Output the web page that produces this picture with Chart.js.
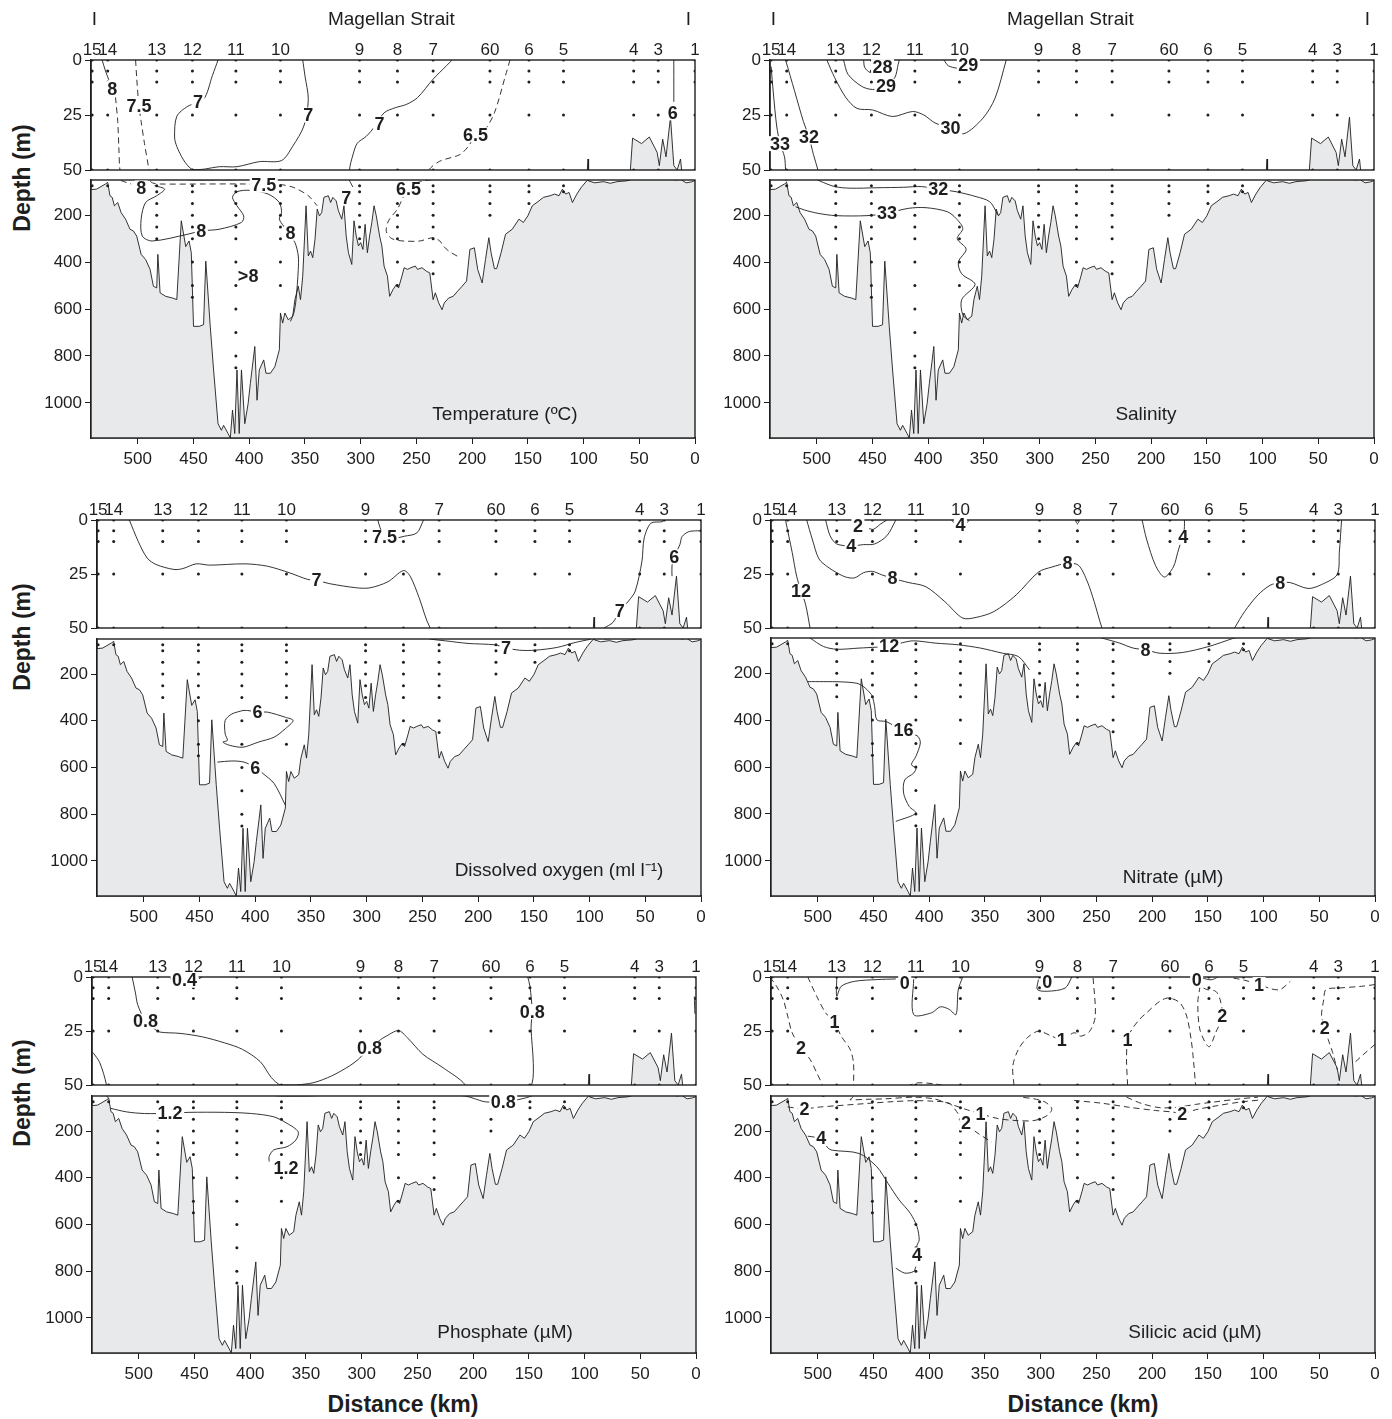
<!DOCTYPE html>
<html>
<head>
<meta charset="utf-8">
<title>Magellan Strait sections</title>
<script src="https://cdn.jsdelivr.net/npm/chart.js"></script>
<style>
  body { margin: 0; width: 1392px; height: 1419px; position: relative; overflow: hidden; background: #fff;
         font-family: 'Liberation Sans', Arial, sans-serif; color: #1e1e1e; }
  canvas { position: absolute; }
  .lab { position: absolute; font-weight: bold; font-size: 23px; white-space: nowrap; }
  .ylab { transform: translate(-50%, -50%) rotate(-90deg); }
  .xlab { transform: translate(-50%, -50%); }
</style>
</head>
<body>
<div class="lab ylab" style="left:22px;top:178px">Depth (m)</div>
<div class="lab ylab" style="left:22px;top:637px">Depth (m)</div>
<div class="lab ylab" style="left:22px;top:1093px">Depth (m)</div>
<div class="lab xlab" style="left:403px;top:1404px">Distance (km)</div>
<div class="lab xlab" style="left:1083px;top:1404px">Distance (km)</div>
<script>
const FONT = "'Liberation Sans', Arial, sans-serif";
const INK = '#1e1e1e';
const SEA_GREY = '#e8e9eb';

// stations along the strait
const stationNames = ['15', '14', '13', '12', '11', '10', '9', '8', '7', '60', '6', '5', '4', '3', '1'];
const stationKm = [541, 527, 483, 451, 412, 372, 301, 267, 235, 184, 149, 118, 55, 33, 0];
const stationMax = [75, 75, 300, 550, 850, 500, 300, 500, 450, 200, 150, 100, 50, 50, 50];
const upperSampleDepths = [0, 5, 10, 25, 50];
const lowerSampleDepths = [75, 100, 150, 200, 250, 300, 400, 500, 600, 700, 800];
const straitEndsKm = [539, 6];

const distanceTicks = [0, 50, 100, 150, 200, 250, 300, 350, 400, 450, 500];
const upperDepthTicks = [0, 25, 50];
const lowerDepthTicks = [200, 400, 600, 800, 1000];

// seafloor profile [km, depth m]
const seafloor = [
  [542,91],[537,89],[529,67],[527,60],[525,117],[523,124],[521,160],[518,146],[515,189],[511,217],[507,260],[504,267],
  [501,289],[497,367],[493,389],[489,431],[486,503],[483,510],[482,367],[480,531],[475,546],[469,553],[465,560],[461,224],
  [457,334],[454,310],[452,360],[450,674],[445,674],[441,667],[439,396],[435,674],[432,860],[428,1089],[425,1117],[423,1096],
  [419,1131],[417,1150],[415,1031],[413,1131],[411,860],[409,1131],[407,860],[404,1089],[401,1003],[399,917],[395,760],
  [393,989],[391,860],[387,817],[385,874],[381,874],[377,846],[373,774],[372,617],[370,660],[368,617],[365,646],[361,631],
  [359,560],[356,503],[354,560],[352,460],[349,160],[347,374],[345,353],[343,381],[341,303],[339,174],[337,203],[335,189],
  [333,124],[329,117],[327,146],[325,124],[322,139],[320,181],[317,217],[315,160],[313,289],[311,360],[308,410],[306,224],
  [304,289],[302,331],[300,317],[298,346],[296,239],[294,360],[292,289],[290,231],[288,160],[286,203],[283,289],[281,331],
  [279,417],[276,460],[274,546],[271,517],[268,496],[266,510],[263,460],[261,424],[258,431],[255,424],[251,417],[249,431],
  [245,424],[241,439],[238,446],[235,560],[233,531],[230,574],[227,603],[225,574],[221,553],[217,546],[213,524],[209,503],
  [205,481],[202,346],[198,339],[195,431],[191,489],[188,389],[185,296],[183,360],[180,428],[178,428],[174,360],[170,281],
  [164,260],[158,217],[154,231],[150,203],[146,160],[140,139],[136,124],[130,117],[126,110],[122,117],[119,89],[116,110],
  [113,103],[110,146],[106,110],[102,81],[97,53],[96,45],[95.5,54],[90,62],[82,57],[76,64],[70,57],[62,54],[58,50],
  [56,35.5],[48,38],[41,35],[34,42],[32,48],[29,36],[26,44],[22,26],[19,48],[16,50],[13,45],[12,50],[8,62],[3,58],[0,52]
];

// temperature (ºC)
const tempSolid = [
  [[532,0],[529,5],[526,9]],
  [[428,0],[433,7],[441,17.9],[455,21],[465,25.6],[467,35],[465,39.3],[459,45.4],[452,49.5],[445,49.8],[439,49.5],[427,48.5],
   [411,48.5],[391,46.2],[371,45.7],[361,39.2],[351,30],[347,18],[350,7.2],[352,0]],
  [[218,0],[223,2.6],[235,8.7],[249,17.1],[259,20.2],[269,21.7],[279,24],[287,30],[295,34.7],[303,37.8],[307,43.2],[310,50],
   [309,62],[307,80]],
  [[19,0],[19,10],[19,19]],
  [[485,74],[476,89],[483,117],[493,146],[497,217],[496,289],[487,310],[455,281],[443,267],[427,260],[407,231],[405,203],
   [411,160],[415,124],[411,100],[399,94],[383,110],[373,146],[371,189],[373,217],[367,260],[359,317],[356,374],[356,431],
   [358,560],[360,617],[363,653]]
];
const tempDashed = [
  [[520,17],[518,28],[517,40],[516,50],[513,56],[506,67]],
  [[502,0],[501,8],[499,21],[497,28],[494,38],[490,50],[487,62],[480,67],[440,67],[404,67],[387,70],[373,69],[360,82],
   [347,117],[339,160]],
  [[166,0],[170,7],[180,24],[189,32],[197,34],[203,39],[211,43],[229,46],[239,50],[245,56],[252,66],[257,90],[262,125],
   [267,174],[275,224],[277,270],[272,300],[262,310],[247,310],[235,296],[229,310],[226,330],[221,353],[211,381]]
];
const tempLabels = [
  [523,13,'8'],[499,21,'7.5'],[446,19,'7'],[347,25,'7'],[283,29,'7'],[197,34,'6.5'],[20,24,'6'],
  [497,84,'8'],[387,72,'7.5'],[313,125,'7'],[257,90,'6.5'],[443,268,'8'],[363,277,'8'],[401,460,'>8']
];

// salinity
const salSolid = [
  [[541,3],[539,15],[536,30],[533,38],[529,44],[528,50],[527,56]],
  [[528,0],[520,14],[512,28],[507,35],[503,43],[499,50],[497,55],[484,78],[470,85],[446,83],[422,81],[406,78],[391,90],
   [375,100],[357,121],[345,142],[339,185],[338,199]],
  [[491,0],[484,8],[474,17],[464,22],[450,22.7],[432,25.7],[414,23.4],[404,25],[394,28.6],[380,31],[368,33.5],[351,26.5],
   [340,17.3],[330,0]],
  [[476,0],[472,6.5],[460,11.9],[450,13.4],[438,12],[430,8],[427,2],[426,0]],
  [[458,0],[457,3.4],[452,5.7],[448,4.9],[445,3]],
  [[386,0],[382,2.6],[374,3.7],[368,3]],
  [[519,164],[511,178],[499,192],[483,202],[455,202],[437,192],[418,171],[402,168],[383,185],[375,214],[369,257],[374,300],
   [366,345],[373,400],[370,450],[358,495],[370,560],[369,625],[363,650]]
];
const salDashed = [];
const salLabels = [
  [533,38,'33'],[507,35,'32'],[380,31,'30'],[438,12,'29'],[441,3,'28'],[364,2.5,'29'],[391,90,'32'],[437,192,'33']
];

// dissolved oxygen (ml l-1)
const oxySolid = [
  [[513,0],[505,9.9],[497,17.6],[489,20.6],[473,22.9],[465,22.5],[453,20.3],[441,20.9],[409,20.3],[389,21.4],[369,24.5],
   [353,27.5],[345,28],[333,29.5],[309,31.4],[297,31.4],[281,28.6],[267,23.4],[261,26],[253,35.9],[243,50],[229,58],
   [209,69],[185,75],[175,88],[163,98],[149,98],[129,86],[113,65],[99,51]],
  [[290,0],[288,3.5],[284,7.6],[276,8.5],[266,7.5],[255,6],[249,0]],
  [[87,50],[79,47.4],[73,42],[65,37.5],[59,32.9],[53,19.1],[51,8.4],[45,1.5],[35,0.8],[33,0]],
  [[0,5],[3,5],[11,5.4],[17,7.7],[19,11.5],[24,17],[26,21],[26,26]],
  [[411,356],[421,371],[427,399],[427,456],[425,484],[429,491],[423,505],[411,513],[397,491],[383,470],[373,434],[366,399],
   [373,385],[389,363],[398,362],[407,356],[411,356]],
  [[434,577],[421,572],[410,577],[400,600],[393,626],[383,669],[373,761]]
];
const oxyDashed = [];
const oxyLabels = [
  [345,28,'7'],[284,8,'7.5'],[73,42,'7'],[24,17,'6'],[175,88,'7'],[398,362,'6'],[400,603,'6']
];

// nitrate (µM)
const nitSolid = [
  [[529,0],[523,15],[519,26],[515,33],[511,39],[507,50],[495,86],[483,98],[463,93],[447,89],[436,86],[424,70],[414,62],
   [394,72],[374,79],[354,93],[334,115],[320,129],[310,186]],
  [[510,0],[505,8.8],[499,18],[491,21.8],[483,24.4],[475,26.4],[467,26.8],[459,24.4],[451,23.8],[443,25.3],[433,27],
   [419,28.9],[403,30.9],[386,37.8],[370,45.4],[358,45.1],[342,42.4],[322,34.7],[302,24.1],[290,21.8],[276,20],[266,21],
   [258,28.7],[252,37.8],[245,50],[229,72],[217,93],[206,100],[193,115],[173,112],[149,86],[127,51],[126,50],[117,42.4],
   [105,34.7],[94,30.2],[85,29],[76,29],[60,31.7],[48,29.9],[34,25.3],[32,14.9],[30,0]],
  [[493,0],[489,7.3],[483,11.1],[470,12],[459,11.4],[449,11.1],[438,7.3],[430,0]],
  [[438,0],[444,2],[450,4.3],[454,4]],
  [[380,0],[377,1.5],[367,1.5],[364,0]],
  [[269,0],[267,1.8],[265,0]],
  [[209,0],[205,8.8],[197,21],[189,26.4],[181,21.8],[177,15],[174,10],[172,8],[171,3],[171,0]],
  [[509,236],[495,236],[479,237],[465,243],[459,257],[453,285],[451,299],[449,342],[447,399],[439,406],[431,425],[423,442],
   [415,460],[410,470],[408,498],[412,555],[416,590],[412,605],[414,626],[422,655],[423,712],[418,768],[412,797],[430,832]]
];
const nitDashed = [];
const nitLabels = [
  [515,33,'12'],[433,27,'8'],[276,20,'8'],[470,12,'4'],[464,3,'2'],[372,2.5,'4'],[172,8,'4'],[85,29,'8'],
  [436,86,'12'],[206,100,'8'],[423,442,'16']
];

// phosphate (µM)
const phosSolid = [
  [[472,0],[470,2]],
  [[446,0.8],[443,0]],
  [[506,0],[503,7.4],[501,12.8],[494,20.5],[486,24],[481,25.5],[463,26.1],[443,27.7],[423,30.5],[407,33.5],[391,39.2],
   [381,46.6],[373,50],[365,50],[359,50],[343,48.9],[327,45.8],[311,41.2],[303,38.1],[293,33],[283,29],[279,27.7],
   [267,24.8],[259,28.1],[245,35.8],[227,42],[207,50],[199,61],[189,75],[173,75],[159,65],[147,49],[146,40],[148,23.5],
   [147,16],[149,4.3],[151,0]],
  [[1.5,9],[1,17]],
  [[541,35],[535,39.7],[529,50],[527,60]],
  [[525,103],[511,118],[495,125],[472,124],[455,120],[423,120],[399,125],[379,139],[367,167],[357,203],[359,238],[367,267],
   [379,281],[383,309],[383,331]]
];
const phosDashed = [];
const phosLabels = [
  [459,1.5,'0.4'],[494,20.5,'0.8'],[293,33,'0.8'],[147,16,'0.8'],[173,75,'0.8'],[472,124,'1.2'],[368,360,'1.2']
];

// silicic acid (µM)
const silSolid = [
  [[483,0],[483,8.9],[479,4.3],[467,2],[447,1.2],[430,0.9]],
  [[414,1],[414,17.4],[398,16.6],[390,13.8],[382,15],[376,17.4],[374,6],[370,0]],
  [[302,1.2],[303,5.8],[294,6.6],[278,5.1],[272,0]],
  [[155,0.5],[147,1.3],[141,0]],
  [[509,222],[503,226],[497,232],[491,272],[487,282],[463,296],[447,353],[437,424],[427,495],[417,552],[411,609],[409,666],
   [411,690],[411,730]],
  [[430,787],[422,808],[414,801],[412,780]]
];
const silDashed = [
  [[543,0],[537,4.3],[531,10.5],[527,18.1],[523,25.8],[515,33],[507,38.1],[501,44.3],[496,50],[492,58]],
  [[509,0],[501,8.9],[493,16.6],[485,21],[479,27.4],[471,33.5],[468,39.7],[468,50],[469,58],[471,66],[455,64],[439,62],
   [414,55],[396,62],[382,83],[366,109],[354,126],[338,147],[322,155],[306,155],[294,133],[290,105],[296,76],[306,62],[318,55]],
  [[324,50],[325,41.2],[320,33.5],[312,28.1],[302,25.1],[290,27.4],[281,29],[270,25.8],[264,27.4],[256,25.1],[251,18.1],[253,0]],
  [[222,50],[223,38],[222,29],[219,25],[212,20],[205,16.6],[193,11.2],[185,9.7],[175,12],[169,18.1],[165,28.9],[163,38],[161,50]],
  [[157,4.3],[159,12],[157,24.6],[149,32.3],[143,25.8],[137,18],[139,10.5],[143,6.6],[151,5.8],[157,4.3]],
  [[127,0.5],[117,1.5],[104,3.5],[93,5.5],[85,5.8],[76,2]],
  [[0,3.5],[12,4.3],[32,5.1],[44,5.8],[46,10.5],[48,18.1],[45,23.5],[42,28.9],[38,35],[34,42.8]],
  [[0,31.2],[12,36.6],[20,40.5]],
  [[420,50.5],[410,49],[395,49.5],[384,50.5]],
  [[527,97],[512,105],[500,98],[484,92],[453,81],[432,74],[414,70],[398,72],[382,81],[374,126],[367,166],[358,204],[344,247]],
  [[270,69],[245,81],[221,98],[197,112],[181,119],[173,126],[161,109],[141,91],[121,76],[101,66]],
  [[223,55],[209,83],[193,100],[177,98],[161,86],[145,76],[121,62],[105,55]]
];
const silLabels = [
  [422,2.8,'0'],[294,2.3,'0'],[160,1.5,'0'],[515,33,'2'],[485,21,'1'],[281,29,'1'],[222,29,'1'],[137,18,'2'],
  [104,3.5,'1'],[45,23.5,'2'],[512,105,'2'],[354,126,'1'],[367,166,'2'],[173,126,'2'],[497,232,'4'],[411,730,'4']
];

// page layout
const PLOT_W = 604, Y_W = 64, PAD_R = 18, X_MAX = 542;

const fields = [
  { solid: tempSolid, dashed: tempDashed, labels: tempLabels, title: 'Temperature (ºC)', header: true,
    box: { right: 695, t1: 60, b1: 170, t2: 180, b2: 438 }, titleDx: 190, titleDy: 23 },
  { solid: salSolid, dashed: salDashed, labels: salLabels, title: 'Salinity', header: true,
    box: { right: 1374, t1: 60, b1: 170, t2: 180, b2: 438 }, titleDx: 228, titleDy: 23 },
  { solid: oxySolid, dashed: oxyDashed, labels: oxyLabels, title: 'Dissolved oxygen (ml l\u207B\u00B9)', header: false,
    box: { right: 701, t1: 520, b1: 628, t2: 639, b2: 896 }, titleDx: 142, titleDy: 25 },
  { solid: nitSolid, dashed: nitDashed, labels: nitLabels, title: 'Nitrate (µM)', header: false,
    box: { right: 1375, t1: 520, b1: 628, t2: 638, b2: 896 }, titleDx: 202, titleDy: 18 },
  { solid: phosSolid, dashed: phosDashed, labels: phosLabels, title: 'Phosphate (µM)', header: false,
    box: { right: 696, t1: 977, b1: 1085, t2: 1096, b2: 1353 }, titleDx: 191, titleDy: 20 },
  { solid: silSolid, dashed: silDashed, labels: silLabels, title: 'Silicic acid (µM)', header: false,
    box: { right: 1375, t1: 977, b1: 1085, t2: 1096, b2: 1353 }, titleDx: 180, titleDy: 20 }
];

const toXY = pts => pts.map(([x, y]) => ({ x, y }));

function stationDots(upper) {
  const out = [];
  stationKm.forEach((km, i) => {
    if (upper) {
      upperSampleDepths.forEach(d => out.push({ x: km, y: d }));
    } else {
      lowerSampleDepths.filter(d => d <= stationMax[i]).forEach(d => out.push({ x: km, y: d }));
      if (stationMax[i] > 50 && !lowerSampleDepths.includes(stationMax[i])) out.push({ x: km, y: stationMax[i] });
    }
  });
  return out;
}

function sectionPlugin(field, upper) {
  return {
    id: 'section',
    afterDatasetsDraw(chart) {
      const { ctx, chartArea: a, scales: { x, y } } = chart;
      ctx.save();
      ctx.strokeStyle = INK;
      ctx.lineWidth = 1.4;
      ctx.strokeRect(a.left, a.top, a.right - a.left, a.bottom - a.top);

      // contour values
      ctx.font = `bold 18px ${FONT}`;
      ctx.textAlign = 'center';
      ctx.textBaseline = 'middle';
      field.labels.forEach(([km, d, t]) => {
        if (d < y.min || d > y.max) return;
        const px = x.getPixelForValue(km), py = y.getPixelForValue(d);
        const w = ctx.measureText(t).width;
        ctx.fillStyle = '#fff';
        ctx.fillRect(px - w / 2 - 1.5, py - 7.5, w + 3, 15);
        ctx.fillStyle = INK;
        ctx.fillText(t, px, py + 1);
      });

      if (upper) {
        ctx.font = `17px ${FONT}`;
        ctx.textBaseline = 'alphabetic';
        stationNames.forEach((n, i) => ctx.fillText(n, x.getPixelForValue(stationKm[i]), a.top - 5));
        if (field.header) {
          ctx.font = `19px ${FONT}`;
          ctx.textBaseline = 'middle';
          ctx.fillText('Magellan Strait', x.getPixelForValue((straitEndsKm[0] + straitEndsKm[1]) / 2), a.top - 40);
          straitEndsKm.forEach(km => ctx.fillText('I', x.getPixelForValue(km), a.top - 40));
        }
      } else {
        ctx.font = `19px ${FONT}`;
        ctx.textBaseline = 'middle';
        ctx.fillText(field.title, a.right - field.titleDx, a.bottom - field.titleDy);
      }
      ctx.restore();
    }
  };
}

function buildPart(field, upper) {
  const b = field.box;
  const top = upper ? b.t1 : b.t2, bottom = upper ? b.b1 : b.b2;
  const padTop = upper ? 56 : 20, padBottom = upper ? 20 : 0, xH = upper ? 0 : 34;
  const w = PLOT_W + Y_W + PAD_R, h = (bottom - top) + padTop + padBottom + xH;
  const cv = document.createElement('canvas');
  cv.width = w; cv.height = h;
  cv.style.left = (b.right - PLOT_W - Y_W) + 'px';
  cv.style.top = (top - padTop) + 'px';
  cv.style.width = w + 'px'; cv.style.height = h + 'px';
  document.body.appendChild(cv);

  const yMin = upper ? 0 : 50, yMax = upper ? 50 : 1150;
  const lineStyle = { borderColor: INK, borderWidth: 0.9, pointRadius: 0, fill: false, tension: 0.3, order: 2 };
  const datasets = [
    { data: toXY(seafloor), borderColor: INK, borderWidth: 0.9, backgroundColor: SEA_GREY,
      fill: { value: yMax }, pointRadius: 0, tension: 0, order: 5 },
    ...field.solid.map(p => ({ ...lineStyle, data: toXY(p) })),
    ...field.dashed.map(p => ({ ...lineStyle, data: toXY(p), borderDash: [6, 4] })),
    { data: stationDots(upper), showLine: false, pointRadius: 1.5, pointBackgroundColor: INK,
      pointBorderWidth: 0, order: 1 }
  ];

  const tickFont = { size: 17, family: FONT };
  new Chart(cv, {
    type: 'line',
    data: { datasets },
    options: {
      responsive: false, animation: false, events: [],
      layout: { padding: { left: 0, right: PAD_R, top: padTop, bottom: padBottom } },
      plugins: { legend: { display: false }, tooltip: { enabled: false } },
      scales: {
        x: {
          type: 'linear', reverse: true, min: 0, max: X_MAX, display: !upper,
          afterBuildTicks: s => { s.ticks = distanceTicks.map(v => ({ value: v })); },
          afterFit: s => { s.height = xH; },
          ticks: { font: tickFont, color: INK, padding: 5, maxRotation: 0, autoSkip: false, callback: v => String(v) },
          grid: { drawOnChartArea: false, drawTicks: true, tickLength: 6, color: INK, lineWidth: 1 },
          border: { display: true, color: INK, width: 1.4 }
        },
        y: {
          type: 'linear', reverse: true, min: yMin, max: yMax,
          afterBuildTicks: s => { s.ticks = (upper ? upperDepthTicks : lowerDepthTicks).map(v => ({ value: v })); },
          afterFit: s => { s.width = Y_W; },
          ticks: { font: tickFont, color: INK, padding: 3, autoSkip: false, callback: v => String(v) },
          grid: { drawOnChartArea: false, drawTicks: true, tickLength: 6, color: INK, lineWidth: 1 },
          border: { display: true, color: INK, width: 1.4 }
        }
      }
    },
    plugins: [sectionPlugin(field, upper)]
  });
}

fields.forEach(f => { buildPart(f, true); buildPart(f, false); });
</script>
</body>
</html>
